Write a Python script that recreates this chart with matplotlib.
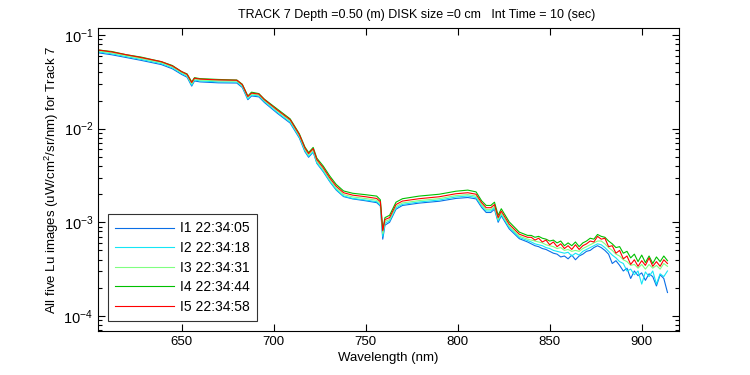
import numpy as np
import matplotlib
matplotlib.use('Agg')
from matplotlib import pyplot as plt
from matplotlib.ticker import FixedLocator, FuncFormatter, LogLocator, NullFormatter

plt.rcParams['font.family'] = ['Liberation Sans', 'DejaVu Sans']
plt.rcParams['mathtext.fontset'] = 'custom'
plt.rcParams['mathtext.rm'] = 'Liberation Sans'

# wavelength grid (nm): smooth part then noisy tail
wl_smooth = [605, 612, 620, 628, 639, 645, 650, 653, 655.5, 657, 660, 670, 680, 683, 686,
             688, 692, 695, 702, 709, 714, 717, 719, 721.5, 723.5, 727, 730.5, 734, 738,
             743, 750, 756, 758, 759.3, 760.5, 763, 766.5, 770, 779, 790, 799, 805.5, 810,
             813, 815.5, 818, 820, 822, 823.7, 828, 833.5, 838]
wl_tail = [840, 842, 844, 846, 848, 850, 852, 854, 856, 858, 860, 862, 864, 866, 868, 870,
           872, 874, 876, 878, 880, 882, 884, 886, 888, 890, 892, 894, 896, 898, 900, 902,
           904, 906, 908, 910, 912, 914]

# log10 of Lu
i1_smooth = [-1.19, -1.21, -1.24, -1.27, -1.315, -1.36, -1.42, -1.45, -1.545, -1.49, -1.50,
             -1.51, -1.512, -1.56, -1.69, -1.65, -1.66, -1.72, -1.835, -1.94, -2.10, -2.245,
             -2.305, -2.25, -2.37, -2.46, -2.565, -2.655, -2.725, -2.75, -2.77, -2.79, -2.825,
             -3.18, -3.03, -3.0, -2.86, -2.82, -2.795, -2.775, -2.745, -2.735, -2.75, -2.84,
             -2.895, -2.895, -2.86, -3.0, -2.93, -3.07, -3.175, -3.21]
i2_smooth = [-1.18, -1.20, -1.23, -1.26, -1.305, -1.35, -1.41, -1.44, -1.535, -1.48, -1.49,
             -1.50, -1.502, -1.55, -1.68, -1.64, -1.65, -1.71, -1.825, -1.93, -2.09, -2.235,
             -2.295, -2.245, -2.365, -2.453, -2.56, -2.649, -2.719, -2.745, -2.762, -2.78,
             -2.815, -3.15, -3.01, -2.985, -2.845, -2.808, -2.783, -2.762, -2.73, -2.719,
             -2.735, -2.825, -2.879, -2.879, -2.845, -2.985, -2.915, -3.055, -3.162, -3.195]
i3_smooth = [-1.17, -1.19, -1.22, -1.25, -1.294, -1.34, -1.40, -1.43, -1.52, -1.47, -1.48,
             -1.489, -1.492, -1.54, -1.666, -1.63, -1.64, -1.70, -1.81, -1.916, -2.077, -2.22,
             -2.28, -2.228, -2.348, -2.437, -2.544, -2.633, -2.703, -2.729, -2.746, -2.764,
             -2.80, -3.12, -2.99, -2.97, -2.83, -2.793, -2.768, -2.747, -2.715, -2.704, -2.72,
             -2.81, -2.864, -2.864, -2.83, -2.97, -2.90, -3.04, -3.147, -3.18]
i4_smooth = [-1.16, -1.175, -1.21, -1.235, -1.284, -1.325, -1.39, -1.415, -1.50, -1.455, -1.465,
             -1.474, -1.48, -1.525, -1.65, -1.61, -1.625, -1.685, -1.79, -1.895, -2.055, -2.195,
             -2.255, -2.20, -2.315, -2.40, -2.505, -2.595, -2.665, -2.69, -2.705, -2.72, -2.76,
             -3.08, -2.95, -2.925, -2.785, -2.748, -2.72, -2.70, -2.668, -2.656, -2.675, -2.77,
             -2.82, -2.82, -2.785, -2.925, -2.855, -2.995, -3.105, -3.14]
i5_smooth = [-1.16, -1.18, -1.21, -1.24, -1.284, -1.33, -1.39, -1.42, -1.507, -1.46, -1.47,
             -1.479, -1.482, -1.53, -1.656, -1.62, -1.63, -1.69, -1.80, -1.904, -2.064, -2.206,
             -2.266, -2.213, -2.33, -2.418, -2.525, -2.614, -2.684, -2.71, -2.727, -2.745,
             -2.78, -3.09, -2.97, -2.95, -2.81, -2.773, -2.748, -2.727, -2.695, -2.684, -2.70,
             -2.79, -2.844, -2.844, -2.81, -2.95, -2.88, -3.02, -3.127, -3.16]

i1_tail = [-3.23, -3.25, -3.26, -3.28, -3.29, -3.31, -3.33, -3.34, -3.37, -3.36, -3.39, -3.35,
           -3.40, -3.36, -3.34, -3.31, -3.30, -3.27, -3.25, -3.27, -3.30, -3.34, -3.44, -3.41,
           -3.46, -3.52, -3.49, -3.60, -3.52, -3.57, -3.54, -3.62, -3.55, -3.58, -3.68, -3.56,
           -3.60, -3.75]
i2_tail = [-3.21, -3.23, -3.24, -3.25, -3.27, -3.28, -3.30, -3.31, -3.32, -3.33, -3.32, -3.36,
           -3.33, -3.35, -3.31, -3.29, -3.27, -3.25, -3.23, -3.24, -3.27, -3.31, -3.35, -3.38,
           -3.42, -3.44, -3.52, -3.50, -3.56, -3.52, -3.66, -3.53, -3.58, -3.52, -3.66, -3.55,
           -3.58, -3.52]
i3_tail = [-3.19, -3.20, -3.21, -3.22, -3.24, -3.25, -3.26, -3.28, -3.27, -3.30, -3.29, -3.31,
           -3.30, -3.31, -3.28, -3.26, -3.24, -3.22, -3.20, -3.20, -3.23, -3.27, -3.30, -3.34,
           -3.36, -3.40, -3.42, -3.46, -3.45, -3.49, -3.45, -3.50, -3.45, -3.49, -3.46, -3.50,
           -3.44, -3.47]
i4_tail = [-3.14, -3.16, -3.15, -3.17, -3.18, -3.20, -3.19, -3.22, -3.20, -3.25, -3.22, -3.25,
           -3.21, -3.26, -3.22, -3.20, -3.17, -3.18, -3.13, -3.15, -3.16, -3.20, -3.23, -3.27,
           -3.26, -3.33, -3.31, -3.38, -3.34, -3.42, -3.35, -3.43, -3.36, -3.44, -3.37, -3.42,
           -3.36, -3.41]
i5_tail = [-3.16, -3.19, -3.17, -3.21, -3.19, -3.24, -3.21, -3.26, -3.23, -3.28, -3.25, -3.29,
           -3.24, -3.29, -3.25, -3.23, -3.20, -3.21, -3.15, -3.18, -3.17, -3.26, -3.25, -3.33,
           -3.30, -3.39, -3.36, -3.45, -3.40, -3.47, -3.41, -3.46, -3.38, -3.47, -3.42, -3.47,
           -3.40, -3.44]

labels = ['I1 22:34:05', 'I2 22:34:18', 'I3 22:34:31', 'I4 22:34:44', 'I5 22:34:58']
colors = ['#0a6ee6', '#14e6f5', '#80ff80', '#00c000', '#ff0000']

smooth = [i1_smooth, i2_smooth, i3_smooth, i4_smooth, i5_smooth]
tail = [i1_tail, i2_tail, i3_tail, i4_tail, i5_tail]
wl = np.array(wl_smooth + wl_tail)

fig = plt.figure(figsize=(7.5, 3.75), dpi=100)
ax = fig.add_axes([0.1307, 0.1173, 0.774, 0.808])

for s, t, lab, c in zip(smooth, tail, labels, colors):
    ax.plot(wl, 10 ** np.array(s + t), color=c, lw=0.8, label=lab)

ax.set_yscale('log')
ax.set_xlim(604.6, 920)
ax.set_ylim(6.9e-5, 0.119)

ax.xaxis.set_major_locator(FixedLocator([650, 700, 750, 800, 850, 900]))
ax.yaxis.set_major_locator(LogLocator(base=10, numticks=10))
ax.yaxis.set_minor_locator(LogLocator(base=10, subs=np.arange(2, 10), numticks=20))
ax.yaxis.set_minor_formatter(NullFormatter())
ax.yaxis.set_major_formatter(FuncFormatter(
    lambda v, p: r'$\mathregular{10^{%d}}$' % int(round(np.log10(v)))))

ax.tick_params(which='both', direction='in', top=True, right=True, labelsize=9.5)
ax.tick_params(axis='y', labelsize=10.5)
ax.tick_params(which='major', length=5, width=0.8)
ax.tick_params(which='minor', length=3, width=0.8)
for sp in ax.spines.values():
    sp.set_linewidth(0.8)

ax.set_xlabel('Wavelength (nm)', fontsize=9.5, labelpad=3)
ax.set_ylabel(r'All five Lu images (uW/cm$^2$/sr/nm) for Track 7', fontsize=9.5, labelpad=2)
fig.text(417 / 750, 1 - 15 / 375, 'TRACK 7 Depth =0.50 (m) DISK size =0 cm   Int Time = 10 (sec)',
         fontsize=9, ha='center', va='center')

leg = ax.legend(loc='lower left', fontsize=10, frameon=True, fancybox=False,
                edgecolor='black', handlelength=4.2, handletextpad=0.45, labelspacing=0.4,
                borderaxespad=0.7, borderpad=0.55)
leg.get_frame().set_linewidth(0.8)

fig.savefig('out.png', dpi=100)
